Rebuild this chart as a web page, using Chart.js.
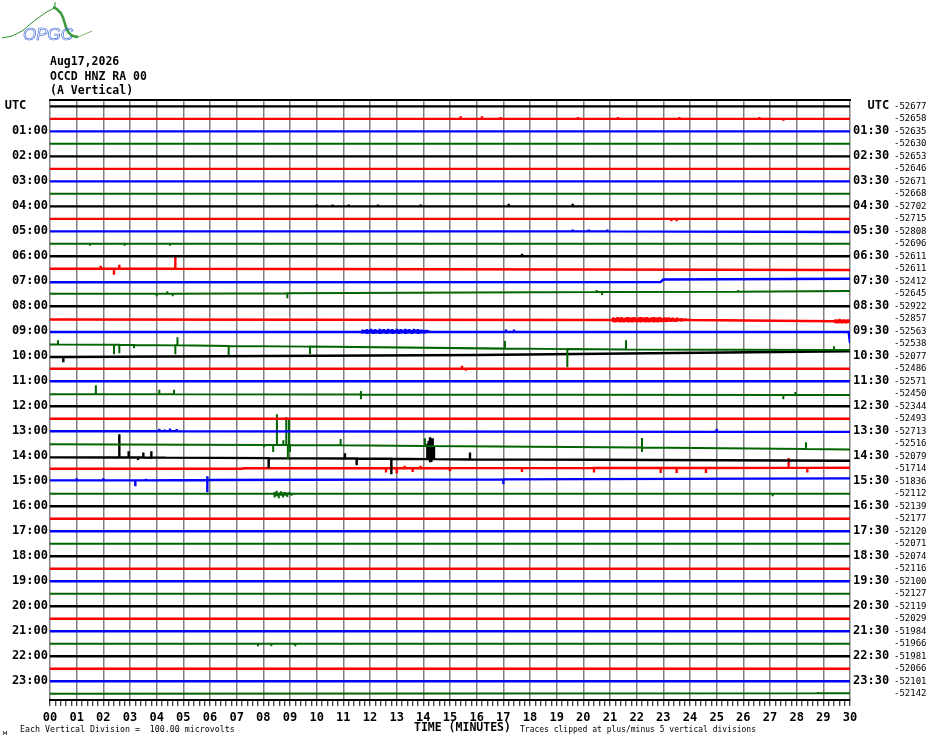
<!DOCTYPE html>
<html>
<head>
    <title>OCCD HNZ helicorder</title>
    <script src="https://cdn.jsdelivr.net/npm/chart.js"></script>
    <style>
        body { margin: 0; background: #fff; }
        canvas { display: block; }
    </style>
</head>
<body>
    <canvas id="heli" width="930" height="744"></canvas>
<script>
// tick labels
const minuteLabels = ['00','01','02','03','04','05','06','07','08','09','10','11','12','13','14','15',
    '16','17','18','19','20','21','22','23','24','25','26','27','28','29','30'];
const leftLabels = ['UTC','01:00','02:00','03:00','04:00','05:00','06:00','07:00','08:00','09:00','10:00','11:00',
    '12:00','13:00','14:00','15:00','16:00','17:00','18:00','19:00','20:00','21:00','22:00','23:00'];
const rightLabels = ['UTC','01:30','02:30','03:30','04:30','05:30','06:30','07:30','08:30','09:30','10:30','11:30',
    '12:30','13:30','14:30','15:30','16:30','17:30','18:30','19:30','20:30','21:30','22:30','23:30'];

// mean count of each 30 minute line
const traceMeans = [-52677,-52658,-52635,-52630,-52653,-52646,-52671,-52668,-52702,-52715,-52808,-52696,
    -52611,-52611,-52412,-52645,-52922,-52857,-52563,-52538,-52077,-52486,-52571,-52450,
    -52344,-52493,-52713,-52516,-52079,-51714,-51836,-52112,-52139,-52177,-52120,-52071,
    -52074,-52116,-52100,-52127,-52119,-52029,-51984,-51966,-51981,-52066,-52101,-52142];

// one list per line, in microvolts:
// [minute, value], a spike [minute, base, peak] or a burst [minute, base, high, low]
const tracePoints = [
    [[0,0],[30,0]],
    [[0,0],[15.4,0,40],[16.2,0,40],[16.9,0,30],[19.8,0,30],[21.3,0,30],[23.6,0,30],[26.6,0,30],[27.5,0,-30],[30,0]],
    [[0,0],[30,0]],
    [[0,0],[30,0]],
    [[0,0],[30,0]],
    [[0,0],[30,0]],
    [[0,0],[30,0]],
    [[0,0],[30,0]],
    [[0,0],[10.0,0,30],[10.6,0,30],[11.2,0,30],[12.3,0,30],[13.9,0,30],[17.2,0,40],[19.6,0,40],[30,0]],
    [[0,0],[23.3,0,-40],[23.5,0,-40],[30,0]],
    [[0,0],[19.6,0,30],[20.2,0,30],[20.9,0,30],[30,-10]],
    [[0,0],[1.5,0,-30],[2.8,0,-30],[4.5,0,-30],[30,0]],
    [[0,0],[17.7,0,40],[30,0]],
    [[0,0],[1.9,0,48],[2.4,0,-96],[2.6,0,64],[4.7,0,208],[30,-20]],
    [[0,-16],[22.9,-10],[23.0,30],[30,40]],
    [[0,0],[4.0,0,-40],[4.4,0,40],[4.6,0,-40],[8.9,10,-72],[20.5,30,60],[20.7,30,-20],[25.8,35,60],[30,45]],
    [[0,0],[30,0]],
    [[0,-10],[21.0,-20],[21.12,-20,25,-55],[21.2,-20,15,-60],[21.28,-20,30,-50],[21.36,-20,20,-60],[21.44,-20,30,-55],
     [21.52,-20,15,-60],[21.6,-20,25,-50],[21.68,-20,30,-60],[21.76,-20,20,-55],[21.84,-20,25,-60],[21.92,-20,30,-50],
     [22.0,-20,15,-60],[22.08,-20,25,-55],[22.16,-20,30,-60],[22.24,-20,20,-50],[22.32,-20,25,-60],[22.4,-20,30,-55],
     [22.48,-20,15,-60],[22.56,-20,25,-50],[22.64,-20,30,-60],[22.72,-20,20,-55],[22.8,-20,25,-60],[22.88,-20,30,-50],
     [22.96,-20,15,-55],[23.04,-20,25,-50],[23.12,-20,20,-55],[23.2,-20,25,-45],[23.28,-20,15,-50],[23.36,-20,20,-45],
     [23.44,-20,10,-50],[23.52,-20,20,-45],[23.6,-20,10,-40],[23.68,-20,15,-45],[23.76,-20,5,-40],[23.84,-20,10,-35],
     [23.92,-20,0,-40],[24.0,-20,5,-35],[29.4,-40],[29.45,-40,-5,-70],[29.53,-40,-10,-75],[29.61,-40,0,-70],
     [29.69,-40,-10,-75],[29.77,-40,-5,-70],[29.85,-40,-10,-75],[29.93,-40,-5,-70],[30,-40]],
    [[0,-10],[11.72,-10,30,-40],[11.8,-10,20,-35],[11.88,-10,35,-45],[11.96,-10,25,-40],[12.04,-10,40,-35],
     [12.12,-10,25,-45],[12.2,-10,35,-40],[12.28,-10,20,-35],[12.36,-10,40,-45],[12.44,-10,30,-40],[12.52,-10,35,-35],
     [12.6,-10,25,-45],[12.68,-10,40,-40],[12.76,-10,30,-35],[12.84,-10,35,-45],[12.92,-10,20,-40],[13.0,-10,40,-35],
     [13.08,-10,30,-45],[13.16,-10,35,-40],[13.24,-10,25,-35],[13.32,-10,40,-45],[13.4,-10,30,-40],[13.48,-10,35,-35],
     [13.56,-10,20,-45],[13.64,-10,40,-40],[13.72,-10,30,-35],[13.8,-10,35,-45],[13.88,-10,25,-40],[13.96,-10,30,-35],
     [14.04,-10,20,-40],[14.12,-10,25,-30],[14.2,-10,15,-30],[14.28,-10,10,-25],
     [17.1,-10,30],[17.4,-10,30],[29.95,-10],[30,-190]],
    [[0,-10],[0.3,-10,56],[2.4,-15,-168],[2.6,-15,-152],[3.15,-20,-72],[4.7,-25,-168],[4.78,-25,104],
     [6.7,-35,-184],[9.75,-45,-168],[17.06,-77,45],[19.4,-85,-376],[21.6,-90,56],[29.4,-100,-40],[30,-100]],
    [[0,-10],[0.5,-10,-96],[16,20],[30,80]],
    [[0,0],[15.45,0,48],[15.6,0,-30],[30,0]],
    [[0,0],[30,0]],
    [[0,-8],[1.72,-8,136],[4.1,-8,64],[4.65,-8,64],[11.66,-10,45,-88],[27.5,-20,-88],[27.95,-20,29],[30,-20]],
    [[0,0],[30,0]],
    [[0,0],[30,0]],
    [[0,0],[4.1,0,40],[4.3,0,30],[4.5,0,45],[4.75,0,35],[25.0,-10,40],[30,-10]],
    [[0,-8],[8.03,-20,-56],[8.37,-20,-131],[8.51,-20,472],[8.75,-20,56],[8.86,-20,429],[8.92,-20,-248],
     [8.96,-20,380],[9.0,-20,-131],[10.9,-25,77],[14.06,-35,88],[22.2,-60,93,-131],[28.35,-85,24],[30,-90]],
    [[0,-17],[2.6,-20,352],[2.95,-20,80],[3.3,-20,-60],[3.5,-20,60],[3.8,-22,80],[4.3,-22,-40],[8.2,-30,-192],
     [11.06,-35,50],[11.5,-35,-144],[12.8,-40,-288],[14.15,-45,200],[14.2,-45,250,-60],[14.25,-45,304,-96],
     [14.3,-45,290,-90],[14.35,-45,290],[14.4,-45,150],[15.75,-50,60],[20.5,-55,-40],[30,-71]],
    [[0,0],[7.2,0],[7.25,8],[12.6,8,-60],[12.8,8,60],[13.0,8,-70],[13.3,8,50],[13.6,8,-50],[13.9,8,50],
     [15.0,10,-40],[17.7,10,-50],[20.4,12,-60],[22.9,12,-67],[23.5,12,-67],[24.6,12,-67],[27.7,15,173],[28.4,15,-60],[30,17]],
    [[0,15],[1.0,15,50],[2.0,15,50],[3.2,15,-80],[3.6,15,40],[5.9,20,80,-176],[17.0,30,-48],[30,47]],
    [[0,0],[8.42,0,30,-60],[8.5,0,50,-40],[8.58,0,20,-70],[8.66,0,40,-30],[8.74,0,25,-60],[8.82,0,30,-30],
     [8.9,0,20,-50],[8.98,0,30,-20],[9.06,0,10,-30],[27.1,0,-40],[30,0]],
    [[0,0],[30,0]],
    [[0,0],[30,0]],
    [[0,0],[30,0]],
    [[0,0],[30,0]],
    [[0,0],[30,0]],
    [[0,0],[30,0]],
    [[0,0],[30,0]],
    [[0,0],[30,0]],
    [[0,0],[30,0]],
    [[0,0],[30,0]],
    [[0,0],[30,0]],
    [[0,0],[7.8,0,-40],[8.3,0,-40],[9.2,0,-40],[30,0]],
    [[0,0],[30,0]],
    [[0,0],[30,0]],
    [[0,0],[30,0]],
    [[0,0],[28.8,10,30],[30,10]]
];

const traceColors = ['#000000', '#ff0000', '#0000ff', '#006400'];
const SPACING = 200;   // microvolts between two lines (2 divisions)
const MONO = '"DejaVu Sans Mono", monospace';

const isWhole = v => Math.abs(v - Math.round(v)) < 1e-6;
const lineIndex = tracePoints.map((p, i) => i);

const datasets = tracePoints.map((pts, i) => {
    const base = -SPACING * i;
    const data = [];
    pts.forEach(p => {
        // every value after the minute is drawn in turn at that same minute
        const vals = p.length > 2 ? p.slice(1).concat([p[1]]) : [p[1]];
        vals.forEach(v => data.push({x: p[0], y: base + v}));
    });
    return {
        data: data,
        borderColor: traceColors[i % 4],
        borderWidth: i % 4 === 3 ? 2 : 2.4,
        pointRadius: 0,
        tension: 0,
        xAxisID: 'x',
        yAxisID: 'y'
    };
});

const yMin = -SPACING * (tracePoints.length - 1) - SPACING / 2;
const yMax = SPACING / 2;
const setLineTicks = s => { s.ticks = lineIndex.map(i => ({value: -SPACING * i})); };
const lineOf = v => Math.round(-v / SPACING);

// logo and footer texts
const decor = {
    id: 'decor',
    afterDraw(chart) {
        const ctx = chart.ctx;
        ctx.save();
        // logo
        ctx.strokeStyle = '#2f8f2f';
        ctx.lineWidth = 1;
        ctx.beginPath();
        ctx.moveTo(2, 38); ctx.lineTo(12, 36); ctx.lineTo(22, 31); ctx.lineTo(34, 21);
        ctx.lineTo(45, 13); ctx.lineTo(54, 8);
        ctx.moveTo(55, 2); ctx.lineTo(55, 9);
        ctx.stroke();
        ctx.lineWidth = 2.5;
        ctx.strokeStyle = '#3c9a3c';
        ctx.beginPath();
        ctx.moveTo(53, 7);
        ctx.quadraticCurveTo(62, 10, 65, 24);
        ctx.quadraticCurveTo(68, 37, 78, 37);
        ctx.stroke();
        ctx.lineWidth = 1;
        ctx.strokeStyle = '#7dbb6a';
        ctx.beginPath();
        ctx.moveTo(78, 37); ctx.lineTo(92, 31);
        ctx.stroke();
        ctx.strokeStyle = '#2a5bd6';
        ctx.lineWidth = 0.6;
        ctx.font = 'italic 17px "Liberation Sans"';
        ctx.textBaseline = 'middle';
        ctx.textAlign = 'left';
        ctx.strokeText('OPGC', 23, 35, 50);

        // footer
        ctx.fillStyle = '#000';
        ctx.font = '8.3px ' + MONO;
        ctx.fillText('Each Vertical Division =  100.00 microvolts', 20, 730);
        ctx.font = '8px ' + MONO;
        ctx.fillText('Traces clipped at plus/minus 5 vertical divisions', 520, 730);
        ctx.font = 'bold 11.5px ' + MONO;
        ctx.fillText('TIME (MINUTES)', 414, 728);
        ctx.font = '7px ' + MONO;
        ctx.fillText('\u043c', 3, 733);
        ctx.restore();
    }
};

new Chart(document.getElementById('heli').getContext('2d'), {
    type: 'line',
    data: { datasets: datasets },
    options: {
        responsive: false,
        animation: false,
        events: [],
        layout: { padding: 0 },
        plugins: {
            legend: { display: false },
            tooltip: { enabled: false },
            title: {
                display: true,
                text: ['Aug17,2026', 'OCCD HNZ RA 00', '(A Vertical)'],
                align: 'start',
                fullSize: false,
                color: '#000',
                font: { family: MONO, size: 11.5, weight: 'bold', lineHeight: 14.7 / 11.5 },
                padding: { top: 54.5, bottom: 1.5 }
            }
        },
        scales: {
            x: {
                type: 'linear',
                position: 'bottom',
                min: 0,
                max: 30,
                ticks: {
                    stepSize: 0.2,
                    autoSkip: false,
                    maxRotation: 0,
                    padding: 5,
                    color: '#000',
                    font: { family: MONO, size: 12, weight: 'bold' },
                    callback: v => isWhole(v) ? minuteLabels[Math.round(v)] : ''
                },
                grid: {
                    color: c => (c.tick && isWhole(c.tick.value)) ? '#808080' : 'rgba(0,0,0,0)',
                    lineWidth: 1.5,
                    tickColor: '#000',
                    tickLength: 6,
                    tickWidth: 1
                },
                border: { display: true, color: '#000', width: 2 },
                afterFit: s => { s.height = 44; }
            },
            xTop: {
                type: 'linear',
                position: 'top',
                min: 0,
                max: 30,
                ticks: { display: false },
                grid: { drawOnChartArea: false, drawTicks: false },
                border: { display: true, color: '#000', width: 2 },
                afterFit: s => { s.height = 0; }
            },
            y: {
                type: 'linear',
                position: 'left',
                min: yMin,
                max: yMax,
                afterBuildTicks: setLineTicks,
                ticks: {
                    autoSkip: false,
                    padding: 2,
                    color: '#000',
                    font: { family: MONO, size: 12, weight: 'bold' },
                    callback: v => {
                        const i = lineOf(v);
                        if (i % 2) return '';
                        const t = leftLabels[i / 2];
                        return t === 'UTC' ? 'UTC   ' : t;
                    }
                },
                grid: { display: false, drawTicks: false },
                border: { display: false },
                afterFit: s => { s.width = 50; }
            },
            yRight: {
                type: 'linear',
                position: 'right',
                weight: 1,
                min: yMin,
                max: yMax,
                afterBuildTicks: setLineTicks,
                ticks: {
                    autoSkip: false,
                    padding: 3,
                    color: '#000',
                    font: { family: MONO, size: 12, weight: 'bold' },
                    callback: v => {
                        const i = lineOf(v);
                        if (i % 2) return '';
                        const t = rightLabels[i / 2];
                        return t === 'UTC' ? '  UTC' : t;
                    }
                },
                grid: { display: false, drawTicks: false },
                border: { display: false },
                afterFit: s => { s.width = 42; }
            },
            yMeans: {
                type: 'linear',
                position: 'right',
                weight: 2,
                min: yMin,
                max: yMax,
                afterBuildTicks: setLineTicks,
                ticks: {
                    autoSkip: false,
                    padding: 2,
                    color: '#000',
                    font: { family: MONO, size: 9 },
                    callback: v => String(traceMeans[lineOf(v)])
                },
                grid: { display: false, drawTicks: false },
                border: { display: false },
                afterFit: s => { s.width = 38; }
            }
        }
    },
    plugins: [decor]
});
</script>
</body>
</html>
